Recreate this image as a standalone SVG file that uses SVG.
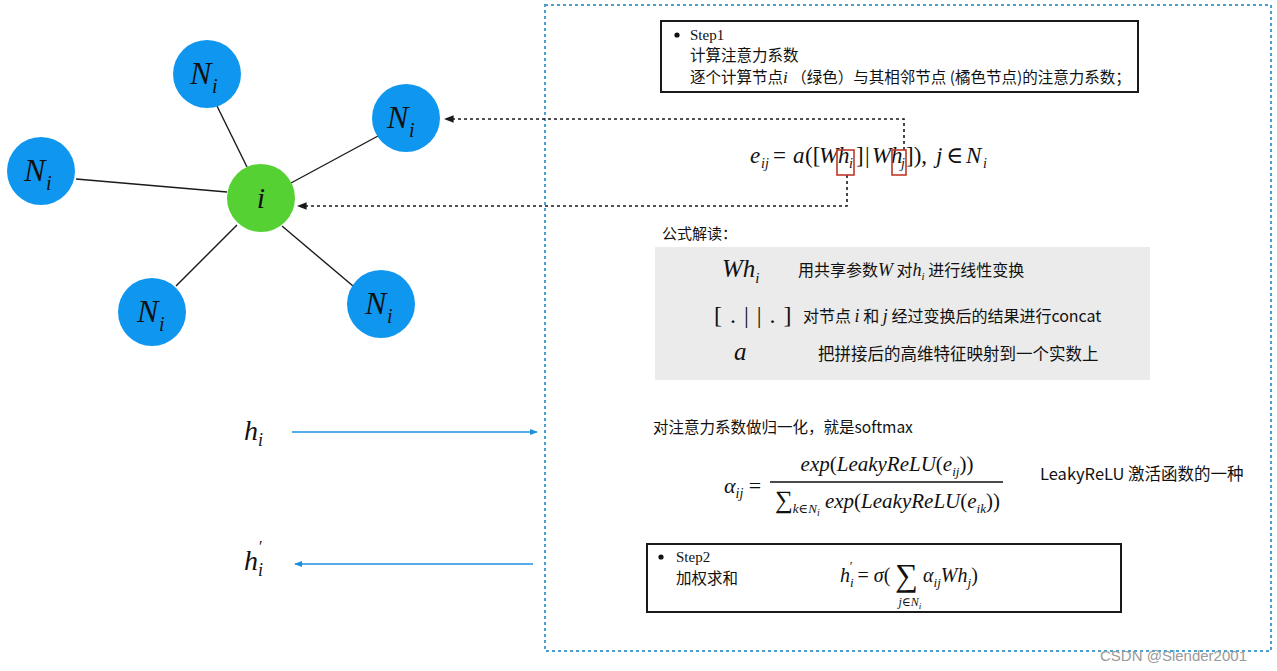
<svg xmlns="http://www.w3.org/2000/svg" width="1277" height="671" viewBox="0 0 1277 671">
<defs>
<style>
.nb{fill:#0f97f0}
.ng{fill:#56d133}
.edge{stroke:#1a1a1a;stroke-width:1.4;fill:none}
.dot{stroke:#1a1a1a;stroke-width:1.6;stroke-dasharray:3,3;fill:none}
.blue{stroke:#1b8fdf;stroke-width:1.6;fill:none}
.math{font-family:"Liberation Serif","DejaVu Serif",serif;font-style:italic;fill:#111}
.mathup{font-family:"Liberation Serif","DejaVu Serif",serif;font-style:normal;fill:#111}
.cjk{font-family:"Noto Sans CJK SC","Liberation Sans",sans-serif;fill:#111}
.ser{font-family:"Liberation Serif","Noto Sans CJK SC",serif;fill:#111}
.box{fill:#fff;stroke:#1a1a1a;stroke-width:2}
</style>
<marker id="ab" viewBox="0 0 10 10" refX="9" refY="5" markerWidth="6" markerHeight="6" orient="auto"><path d="M0,1 L10,5 L0,9 z" fill="#1a1a1a"/></marker>
<marker id="abl" viewBox="0 0 10 10" refX="9" refY="5" markerWidth="5" markerHeight="5" orient="auto"><path d="M0,1 L10,5 L0,9 z" fill="#1b8fdf"/></marker>
</defs>
<rect width="1277" height="671" fill="#fff"/>
<rect x="545" y="5" width="726" height="646" fill="none" stroke="#4a9fd0" stroke-width="2" stroke-dasharray="3,3"/>

<g id="connectors">
<line class="edge" x1="217" y1="106" x2="247" y2="167"/>
<line class="edge" x1="378" y1="136" x2="291" y2="183"/>
<line class="edge" x1="76" y1="179" x2="227" y2="192"/>
<line class="edge" x1="176" y1="286" x2="237" y2="225"/>
<line class="edge" x1="353" y1="286" x2="282" y2="226"/>
<polyline class="dot" points="904,150 904,119 445,119" marker-end="url(#ab)"/>
<polyline class="dot" points="847,175 847,206 298,206" marker-end="url(#ab)"/>
<line class="blue" x1="292" y1="432" x2="537" y2="432" marker-end="url(#abl)"/>
<line class="blue" x1="533" y1="564" x2="295" y2="564" marker-end="url(#abl)"/>
</g>

<g id="n-top"><circle class="nb" cx="207" cy="74" r="34"/><text class="math" x="190" y="84" font-size="32">N</text><text class="math" x="212" y="93" font-size="20">i</text></g>
<g id="n-ur"><circle class="nb" cx="406" cy="118" r="34"/><text class="math" x="387" y="128" font-size="32">N</text><text class="math" x="409" y="137" font-size="20">i</text></g>
<g id="n-left"><circle class="nb" cx="41" cy="171" r="34"/><text class="math" x="24" y="181" font-size="32">N</text><text class="math" x="46" y="190" font-size="20">i</text></g>
<g id="n-bl"><circle class="nb" cx="152" cy="312" r="34"/><text class="math" x="137" y="322" font-size="32">N</text><text class="math" x="159" y="331" font-size="20">i</text></g>
<g id="n-br"><circle class="nb" cx="381" cy="304" r="34"/><text class="math" x="365" y="314" font-size="32">N</text><text class="math" x="387" y="323" font-size="20">i</text></g>
<g id="n-i"><circle class="ng" cx="261" cy="198" r="34"/><text class="math" x="261" y="208" font-size="30" text-anchor="middle">i</text></g>

<g id="h-in"><text class="math" x="244" y="440" font-size="28">h</text><text class="math" x="258" y="446" font-size="18">i</text></g>
<g id="h-out"><text class="math" x="244" y="570" font-size="28">h</text><text class="math" x="258" y="576" font-size="18">i</text><text class="mathup" x="259" y="552" font-size="16">′</text></g>

<g id="step1">
<rect class="box" x="661" y="21" width="477" height="71"/>
<circle cx="677" cy="35" r="2.6" fill="#111"/>
<text class="ser" x="690" y="40" font-size="15">Step1</text>
<text class="cjk" x="690" y="61" font-size="15.5">计算注意力系数</text>
<text class="cjk" x="690" y="83" font-size="15.5">逐个计算节点<tspan class="math" font-size="17">i</tspan> （绿色）与其相邻节点 (橘色节点)的注意力系数；</text>
</g>

<g id="formula-e" font-size="23">
<text class="math" x="750" y="163">e</text>
<text class="math" x="761" y="168" font-size="14">ij</text>
<text class="mathup" x="773" y="163">=</text>
<text class="math" x="793" y="163">a</text>
<text class="mathup" x="805" y="163">([</text>
<text class="math" x="819" y="163">W</text>
<text class="math" x="838" y="163">h</text>
<text class="math" x="849" y="168" font-size="14">i</text>
<text class="mathup" x="856" y="163">]</text>
<text class="mathup" x="865" y="163">|</text>
<text class="math" x="872" y="163">W</text>
<text class="math" x="891" y="163">h</text>
<text class="math" x="901" y="168" font-size="14">j</text>
<text class="mathup" x="906" y="163">]),</text>
<text class="math" x="936" y="163">j</text>
<text class="mathup" x="946" y="163">∈</text>
<text class="math" x="966" y="163">N</text>
<text class="math" x="983" y="168" font-size="14">i</text>
<rect x="837" y="150" width="17" height="25" fill="none" stroke="#c0392b" stroke-width="1.6"/>
<rect x="892" y="150" width="14" height="25" fill="none" stroke="#c0392b" stroke-width="1.6"/>
</g>

<g id="explain">
<text class="cjk" x="662" y="239" font-size="15">公式解读：</text>
<rect x="655" y="247" width="495" height="133" fill="#ebebeb"/>
<text class="math" x="722" y="277" font-size="25">Wh<tspan font-size="15" dy="6">i</tspan></text>
<text class="cjk" x="798" y="276" font-size="16">用共享参数<tspan class="math" font-size="18">W</tspan> 对<tspan class="math" font-size="18">h</tspan><tspan class="math" font-size="11" dy="4">i</tspan><tspan dy="-4"> 进行线性变换</tspan></text>
<text class="mathup" x="714" y="323" font-size="24" letter-spacing="1">[ . | | . ]</text>
<text class="cjk" x="803" y="322" font-size="16">对节点 <tspan class="math" font-size="18">i</tspan> 和 <tspan class="math" font-size="18">j</tspan> 经过变换后的结果进行concat</text>
<text class="math" x="734" y="360" font-size="25">a</text>
<text class="cjk" x="818" y="360" font-size="16.5">把拼接后的高维特征映射到一个实数上</text>
</g>

<g id="softmax">
<text class="cjk" x="653" y="433" font-size="15.5">对注意力系数做归一化，就是softmax</text>
<text class="math" x="724" y="493" font-size="22">α<tspan font-size="14" dy="5">ij</tspan><tspan class="mathup" dy="-5"> =</tspan></text>
<text class="math" x="887" y="471" font-size="21" text-anchor="middle">exp<tspan class="mathup">(</tspan>LeakyReLU<tspan class="mathup">(</tspan>e<tspan font-size="13" dy="5">ij</tspan><tspan class="mathup" dy="-5">))</tspan></text>
<line x1="770" y1="482" x2="1003" y2="482" stroke="#111" stroke-width="1.4"/>
<text class="math" x="775" y="508" font-size="21"><tspan class="mathup" font-size="25">∑</tspan><tspan font-size="13" dy="5">k∈N</tspan><tspan font-size="10" dy="3">i</tspan><tspan dy="-8"> exp</tspan><tspan class="mathup">(</tspan>LeakyReLU<tspan class="mathup">(</tspan>e<tspan font-size="13" dy="5">ik</tspan><tspan class="mathup" dy="-5">))</tspan></text>
<text class="cjk" x="1040" y="480" font-size="16.5">LeakyReLU 激活函数的一种</text>
</g>

<g id="step2">
<rect class="box" x="647" y="544" width="474" height="68"/>
<circle cx="661" cy="557" r="2.6" fill="#111"/>
<text class="ser" x="676" y="562" font-size="15">Step2</text>
<text class="cjk" x="676" y="584" font-size="15.5">加权求和</text>
<text class="math" x="840" y="582" font-size="20">h<tspan font-size="13" dy="5">i</tspan><tspan class="mathup" font-size="13" dx="-4" dy="-17">′</tspan><tspan class="mathup" dy="12"> = </tspan>σ<tspan class="mathup">( </tspan><tspan class="mathup" font-size="32" dy="4">∑</tspan><tspan dy="-4"> α</tspan><tspan font-size="13" dy="5">ij</tspan><tspan dy="-5">Wh</tspan><tspan font-size="13" dy="5">j</tspan><tspan class="mathup" dy="-5">)</tspan></text>
<text class="math" x="910" y="606" font-size="12" text-anchor="middle">j<tspan class="mathup">∈</tspan>N<tspan font-size="9" dy="3">i</tspan></text>
</g>

<text x="1100" y="661" font-family="Liberation Sans, sans-serif" font-size="15" fill="#999">CSDN @Slender2001</text>
</svg>
